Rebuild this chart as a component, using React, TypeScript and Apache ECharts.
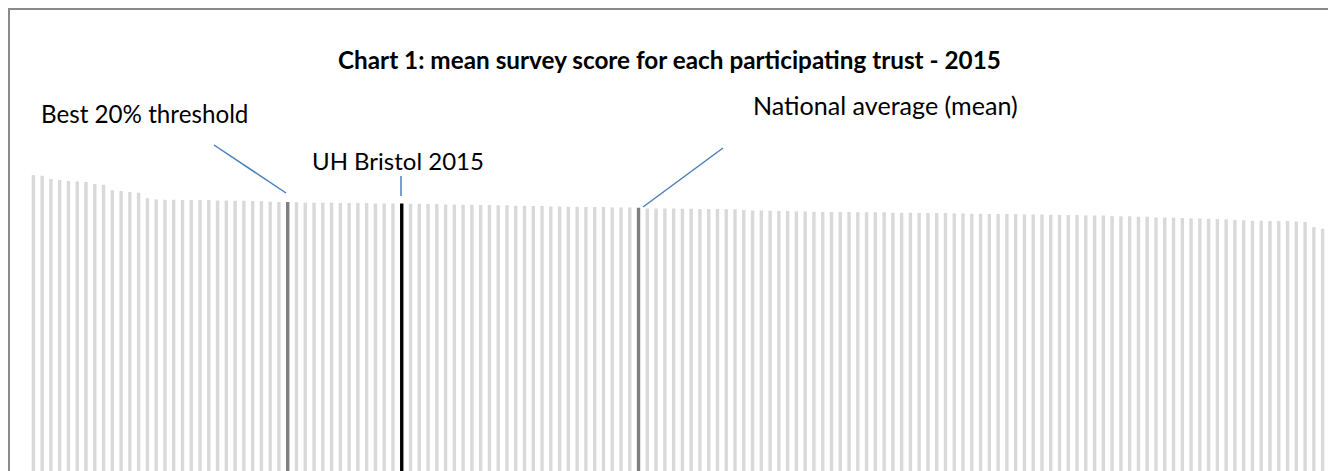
import React, { useEffect, useRef } from "react";
import * as echarts from "echarts";

// Mean survey score per participating trust (ranked, best first)
const scores: number[] = [
  8.949, 8.943, 8.916, 8.907, 8.899, 8.896, 8.891, 8.874, 8.869, 8.822,
  8.816, 8.808, 8.802, 8.756, 8.747, 8.744, 8.744, 8.742, 8.742, 8.742,
  8.742, 8.739, 8.739, 8.736, 8.736, 8.734, 8.731, 8.728, 8.725, 8.725,
  8.723, 8.720, 8.720, 8.720, 8.720, 8.717, 8.717, 8.717, 8.717, 8.714,
  8.714, 8.714, 8.714, 8.711, 8.711, 8.709, 8.709, 8.706, 8.706, 8.703,
  8.703, 8.700, 8.700, 8.698, 8.698, 8.695, 8.695, 8.692, 8.692, 8.689,
  8.689, 8.687, 8.687, 8.684, 8.684, 8.684, 8.681, 8.681, 8.681, 8.678,
  8.673, 8.673, 8.673, 8.673, 8.670, 8.670, 8.667, 8.667, 8.667, 8.665,
  8.665, 8.659, 8.656, 8.656, 8.653, 8.651, 8.651, 8.648, 8.648, 8.645,
  8.642, 8.642, 8.642, 8.642, 8.640, 8.640, 8.640, 8.640, 8.637, 8.637,
  8.637, 8.634, 8.634, 8.634, 8.634, 8.631, 8.631, 8.629, 8.629, 8.626,
  8.626, 8.626, 8.626, 8.623, 8.623, 8.623, 8.620, 8.618, 8.618, 8.618,
  8.615, 8.615, 8.615, 8.609, 8.607, 8.607, 8.604, 8.604, 8.598, 8.596,
  8.596, 8.593, 8.590, 8.590, 8.587, 8.585, 8.582, 8.576, 8.574, 8.571,
  8.571, 8.568, 8.568, 8.568, 8.565, 8.560, 8.518, 8.504,
];

const trusts: string[] = scores.map((_, i) => `Trust ${i + 1}`);

const TITLE = "Chart 1: mean survey score for each participating trust - 2015";
const BEST_20_INDEX = 29;
const UH_BRISTOL_INDEX = 42;
const NATIONAL_AVG_INDEX = 69;

const LABEL_BEST = "Best 20% threshold";
const LABEL_UH = "UH Bristol 2015";
const LABEL_NAT = "National average (mean)";

const Y_MIN = 6.5;
const Y_MAX = 10;

export default function App() {
  const ref = useRef<HTMLDivElement>(null);

  useEffect(() => {
    document.documentElement.style.overflow = "hidden";
    document.body.style.overflow = "hidden";
    if (!ref.current) return;
    const chart = echarts.init(ref.current, null, { renderer: "svg" });

    const font = "Lato, 'Open Sans', sans-serif";
    const blue = "#4a7ebb";
    const ox = 10; // page offset of chart div
    const oy = 10;

    const colorFor = (i: number) => {
      if (i === UH_BRISTOL_INDEX) return "#000000";
      if (i === BEST_20_INDEX || i === NATIONAL_AVG_INDEX) return "#7f7f7f";
      return "#d9d9d9";
    };

    chart.setOption({
      animation: false,
      title: {
        text: TITLE,
        left: 323,
        top: 32,
        textStyle: {
          fontFamily: font,
          fontWeight: "bold",
          fontSize: 24.3,
          color: "#000000",
        },
      },
      grid: { left: 19, right: 1, top: 38, bottom: 0, containLabel: false },
      xAxis: {
        type: "category",
        data: trusts,
        show: false,
      },
      yAxis: {
        type: "value",
        min: Y_MIN,
        max: Y_MAX,
        show: false,
        splitLine: { show: false },
      },
      series: [
        {
          type: "bar",
          barWidth: 3.4,
          data: scores.map((v, i) => ({
            value: v,
            itemStyle: { color: colorFor(i) },
          })),
        },
      ],
      graphic: [
        {
          type: "text",
          x: 41 - ox,
          y: 113 - oy,
          style: {
            text: LABEL_BEST,
            fontFamily: font,
            fontSize: 24.2,
            fill: "#000000",
            verticalAlign: "middle",
          },
        },
        {
          type: "line",
          shape: { x1: 214 - ox, y1: 145 - oy, x2: 286 - ox, y2: 193 - oy },
          style: { stroke: blue, lineWidth: 1.5 },
        },
        {
          type: "text",
          x: 312 - ox,
          y: 160 - oy,
          style: {
            text: LABEL_UH,
            fontFamily: font,
            fontSize: 24.0,
            fill: "#000000",
            verticalAlign: "middle",
          },
        },
        {
          type: "line",
          shape: { x1: 401 - ox, y1: 176 - oy, x2: 401 - ox, y2: 196 - oy },
          style: { stroke: blue, lineWidth: 1.5 },
        },
        {
          type: "text",
          x: 753 - ox,
          y: 105 - oy,
          style: {
            text: LABEL_NAT,
            fontFamily: font,
            fontSize: 25.1,
            fill: "#000000",
            verticalAlign: "middle",
          },
        },
        {
          type: "line",
          shape: { x1: 723 - ox, y1: 148 - oy, x2: 643 - ox, y2: 207 - oy },
          style: { stroke: blue, lineWidth: 1.5 },
        },
      ],
    });

    return () => {
      chart.dispose();
    };
  }, []);

  return (
    <div
      style={{
        position: "fixed",
        left: 0,
        top: 0,
        width: 1340,
        height: 480,
        overflow: "hidden",
        background: "#ffffff",
      }}
    >
      <div
        style={{
          position: "absolute",
          left: 8,
          top: 8,
          width: 2,
          height: 480,
          background: "#8a8a8a",
        }}
      />
      <div
        style={{
          position: "absolute",
          left: 8,
          top: 8,
          width: 1340,
          height: 2,
          background: "#8a8a8a",
        }}
      />
      <div
        ref={ref}
        style={{ position: "absolute", left: 10, top: 10, width: 1318, height: 461 }}
      />
    </div>
  );
}
